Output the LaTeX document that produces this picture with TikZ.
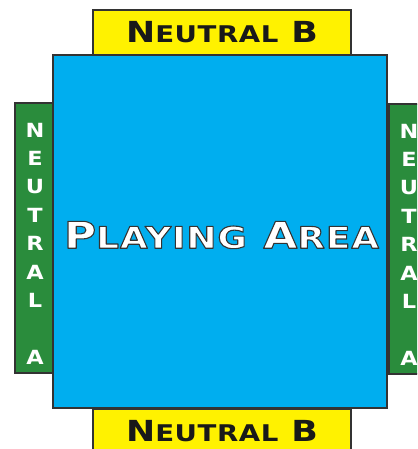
\documentclass[tikz,border=0pt]{standalone}
\usepackage{fontspec}
\usetikzlibrary{positioning}
\newfontfamily\platefont[FakeStretch=1.19,LetterSpace=3.5]{DejaVu Sans Bold}
\newfontfamily\plateboldfont[FakeStretch=1.2,LetterSpace=2.5]{DejaVu Sans Bold}
\newfontfamily\stripfont[FakeStretch=1.15]{DejaVu Sans Bold}
\definecolor{fieldblue}{HTML}{00AEEF}
\definecolor{neutralyellow}{HTML}{FFF200}
\definecolor{neutralgreen}{HTML}{2A8C3C}
\definecolor{edgegray}{HTML}{333333}
\newcommand\capword[4]{{\fontsize{#1}{#1}\selectfont #3}{\fontsize{#2}{#2}\selectfont #4}}
\newcommand\outlined[1]{\special{pdf:literal 1 g 0.2 0.2 0.2 RG 1.1 w 1 j 2 Tr}#1\special{pdf:literal 0 Tr}}

\begin{document}
\begin{tikzpicture}[
  x=1pt, y=-1pt,
  every node/.style={inner sep=0pt, outer sep=0pt},
  zone/.style={draw=edgegray, line width=1.2pt, anchor=north west},
  bzone/.style={zone, fill=neutralyellow, minimum width=258pt, minimum height=45pt},
  azone/.style={zone, fill=neutralgreen, minimum width=38pt, minimum height=270pt},
  blabel/.style={font=\plateboldfont, text=black!90},
  alabel/.style={font=\stripfont\fontsize{19.5}{28.4}\selectfont, text=white, align=center}
]
\useasboundingbox (0,0) rectangle (417,449);
\clip (0,0) rectangle (417,449);
\node[zone, fill=fieldblue, minimum width=334pt, minimum height=353pt] (field) at (53,55) {};
\node[bzone] (topB) at (93,10) {};
\node[bzone] (bottomB) at (93,409) {};
\node[azone] (leftA) at (15,103) {};
\node[azone] (rightA) at (389,104) {};
\node[blabel] (topBtext) at (topB.center) {\capword{29}{23}{N}{EUTRAL}\capword{29}{23}{ B}{}};
\node[blabel] (bottomBtext) at (bottomB.center) {\capword{29}{23}{N}{EUTRAL}\capword{29}{23}{ B}{}};
\node[alabel] (leftAtext) at (35,243.5) {N\\E\\U\\T\\R\\A\\L\\\mbox{}\\A};
\node[alabel] (rightAtext) at (409,244.5) {N\\E\\U\\T\\R\\A\\L\\\mbox{}\\A};
\node[font=\platefont, text=white] (fieldtext) at (221.5,235)
  {\outlined{\capword{37}{30}{P}{LAYING}\capword{37}{30}{ A}{REA}}};
\end{tikzpicture}
\end{document}
